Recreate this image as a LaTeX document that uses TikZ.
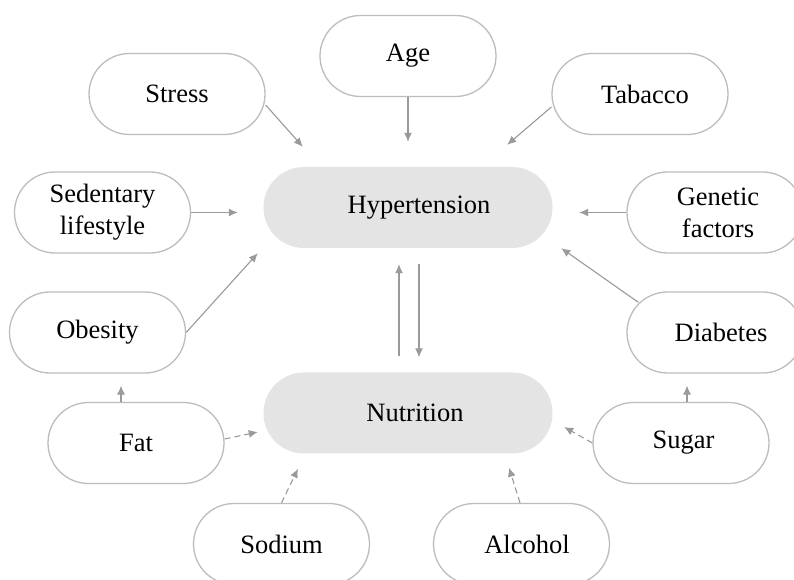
\documentclass[tikz,border=0pt]{standalone}
\usepackage{fontspec}
\setmainfont{Liberation Serif}
\usetikzlibrary{arrows.meta}
\definecolor{bordergray}{HTML}{BDBDBD}
\definecolor{arrowgray}{HTML}{9A9A9A}
\definecolor{fillgray}{HTML}{E4E4E4}
\begin{document}
\begin{tikzpicture}[x=1pt,y=1pt,
  every node/.style={font=\fontsize{26.5}{32}\selectfont, align=center, inner sep=0pt},
  factor/.style={draw=bordergray, line width=1.3pt, fill=white, rectangle,
    rounded corners=40.5pt, minimum width=176pt, minimum height=81pt},
  central/.style={fill=fillgray, rectangle, rounded corners=40.5pt,
    minimum width=289pt, minimum height=81pt},
  arr/.style={draw=arrowgray, line width=1.1pt, -{Latex[length=9pt,width=8pt]}},
  darr/.style={arr, dash pattern=on 6pt off 4pt}]
\useasboundingbox (0,0) rectangle (794,580);
\clip (0,0) rectangle (794,580);
\fill[white] (0,0) rectangle (794,580);

\node[central] (hyp) at (408,372.5) {\hspace*{22pt}Hypertension};
\node[central] (nut) at (408,167) {\hspace*{14pt}Nutrition};

\node[factor] (age) at (408,524) {Age};
\node[factor] (stress) at (177,486) {Stress};
\node[factor] (tab) at (640,486) {\hspace*{10pt}Tabacco};
\node[factor] (sed) at (102.5,367.5) {Sedentary\\lifestyle};
\node[factor] (gen) at (715,367.5) {\hspace*{6pt}Genetic\\\hspace*{6pt}factors};
\node[factor] (obe) at (97.5,247.5) {Obesity};
\node[factor] (dia) at (715,247.5) {\hspace*{12pt}Diabetes};
\node[factor] (fat) at (136,137) {Fat};
\node[factor] (sug) at (681,137) {\hspace*{5pt}Sugar};
\node[factor] (sod) at (281.5,36) {Sodium};
\node[factor] (alc) at (521.5,36) {\hspace*{11pt}Alcohol};

% arrows into Hypertension
\draw[arr] (age.south) -- ([yshift=25pt]hyp.north);
\draw[arr] ([yshift=-11pt]stress.east) -- ([xshift=39.5pt,yshift=20pt]hyp.north west);
\draw[arr] ([yshift=-13pt]tab.west) -- ([xshift=-45.5pt,yshift=22pt]hyp.north east);
\draw[arr] (sed.east) -- ([xshift=-25.5pt,yshift=-5pt]hyp.west);
\draw[arr] (gen.west) -- ([xshift=26.5pt,yshift=-5pt]hyp.east);
\draw[arr] (obe.east) -- ([xshift=-5.5pt,yshift=-5pt]hyp.south west);
\draw[arr] ([xshift=12pt,yshift=-11pt]dia.north west) -- ([xshift=8.5pt]hyp.south east);

% Hypertension <-> Nutrition
\draw[arr] ([xshift=-9pt,yshift=16pt]nut.north) -- ([xshift=-9pt,yshift=-16pt]hyp.south);
\draw[arr] ([xshift=11pt,yshift=-16pt]hyp.south) -- ([xshift=11pt,yshift=15pt]nut.north);

% Fat / Sugar upward
\draw[arr] ([xshift=-15pt]fat.north) -- ([xshift=23.5pt,yshift=-12pt]obe.south);
\draw[arr] ([xshift=6pt]sug.north) -- ([xshift=-28pt,yshift=-12pt]dia.south);

% dashed into Nutrition
\draw[darr] ([yshift=4pt]fat.east) -- ([xshift=-5.5pt,yshift=-19pt]nut.west);
\draw[darr] (sod.north) -- ([xshift=-110pt,yshift=-15pt]nut.south);
\draw[darr] (sug.west) -- ([xshift=11.5pt,yshift=-14pt]nut.east);
\draw[darr] ([xshift=-1.5pt]alc.north) -- ([xshift=101pt,yshift=-14pt]nut.south);
\end{tikzpicture}
\end{document}
